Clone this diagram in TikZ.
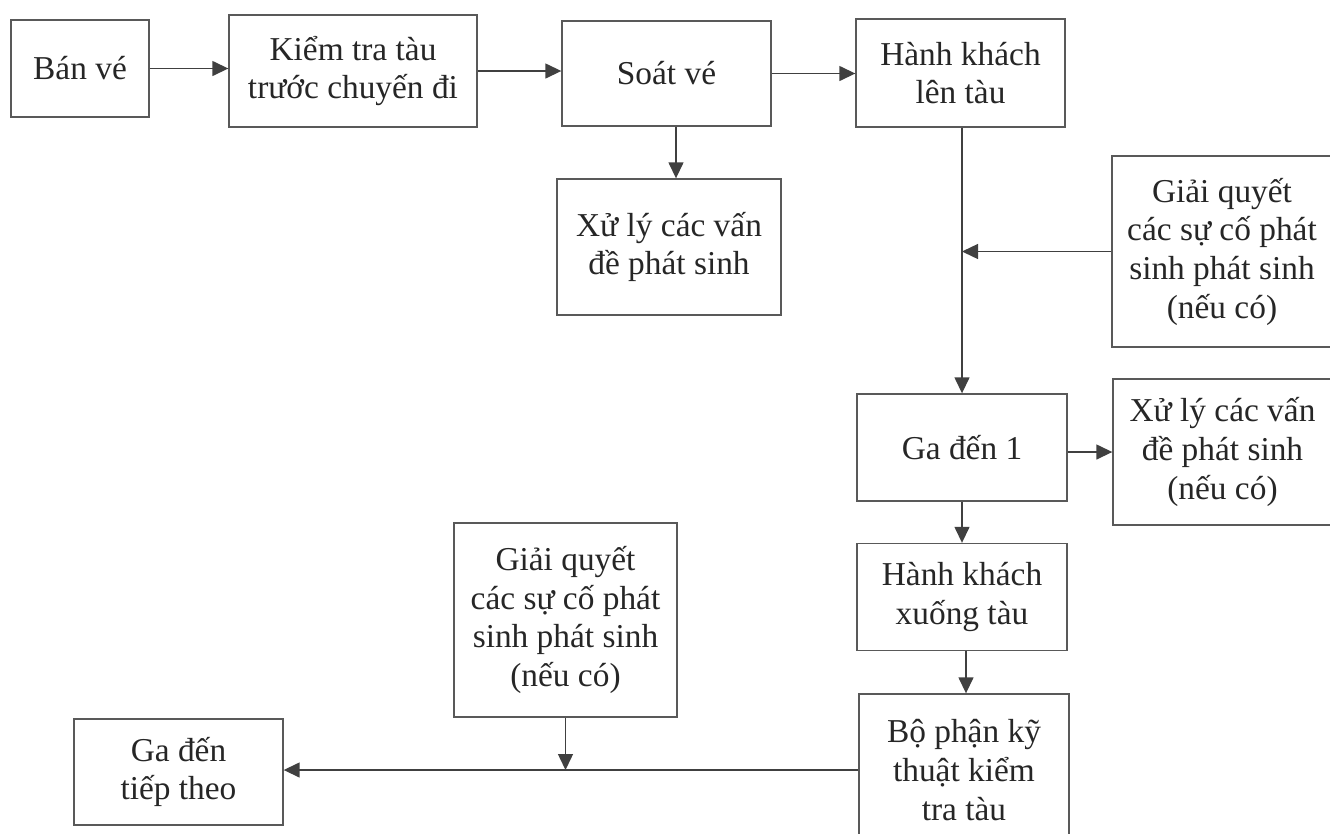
\documentclass[tikz,border=0pt]{standalone}
\usepackage{fontspec}
\setmainfont{Liberation Serif}
\usetikzlibrary{arrows.meta}

\begin{document}
\begin{tikzpicture}[x=0.02cm, y=-0.02cm,
    stage/.style={draw=black!65, line width=0.8pt, align=center, inner sep=2pt,
        text=black!85, font=\fontsize{19}{22}\selectfont},
    flow/.style={draw=black!75, line width=0.8pt, -{Triangle[length=0.32cm,width=0.3cm]}}]
    \useasboundingbox (0,0) rectangle (1330,833);
    \clip (0,0) rectangle (1330,833);

    % top row
    \node[stage, minimum width=2.76cm, minimum height=1.94cm] (banve) at (80,68.5) {Bán vé};
    \node[stage, minimum width=4.96cm, minimum height=2.24cm] (kiemtra) at (353,71) {Kiểm tra tàu\\trước chuyến đi};
    \node[stage, minimum width=4.18cm, minimum height=2.10cm] (soatve) at (666.5,73.5) {Soát vé};
    \node[stage, minimum width=4.18cm, minimum height=2.16cm] (lentau) at (960.5,73) {Hành khách\\lên tàu};

    \node[stage, minimum width=4.48cm, minimum height=2.72cm] (xuly1) at (669,247) {Xử lý các vấn\\đề phát sinh};
    \node[stage, minimum width=4.40cm, minimum height=3.82cm] (giaiquyet1) at (1222,251.5) {Giải quyết\\các sự cố phát\\sinh phát sinh\\(nếu có)};

    % right column
    \node[stage, minimum width=4.20cm, minimum height=2.14cm] (gaden1) at (962,447.5) {Ga đến 1};
    \node[stage, minimum width=4.38cm, minimum height=2.92cm] (xuly2) at (1222.5,452) {Xử lý các vấn\\đề phát sinh\\(nếu có)};
    \node[stage, minimum width=4.20cm, minimum height=2.14cm] (xuongtau) at (962,597) {Hành khách\\xuống tàu};
    \node[stage, minimum width=4.20cm, minimum height=3.04cm] (bophan) at (964,770) {Bộ phận kỹ\\thuật kiểm\\tra tàu};

    % bottom left
    \node[stage, minimum width=4.46cm, minimum height=3.88cm] (giaiquyet2) at (565.5,620) {Giải quyết\\các sự cố phát\\sinh phát sinh\\(nếu có)};
    \node[stage, minimum width=4.18cm, minimum height=2.12cm] (gatiep) at (178.5,772) {Ga đến\\tiếp theo};

    \draw[flow] (banve.east) -- (kiemtra.west |- banve.east);
    \draw[flow] (kiemtra.east) -- (soatve.west |- kiemtra.east);
    \draw[flow] (soatve.east) -- (lentau.west |- soatve.east);
    \draw[flow] ([xshift=0.14cm]xuly1.north |- soatve.south) -- ([xshift=0.14cm]xuly1.north);
    \draw[flow] (gaden1.north |- lentau.south) -- (gaden1.north);
    \draw[flow] (giaiquyet1.west) -- (giaiquyet1.west -| gaden1.north);
    \draw[flow] (gaden1.east |- xuly2.west) -- (xuly2.west);
    \draw[flow] (gaden1.south) -- (xuongtau.north);
    \draw[flow] ([xshift=0.08cm]xuongtau.south) -- ([xshift=0.08cm]xuongtau.south |- bophan.north);
    \draw[flow] (bophan.west) -- (bophan.west -| gatiep.east);
    \draw[flow] (giaiquyet2.south) -- (giaiquyet2.south |- bophan.west);
\end{tikzpicture}
\end{document}
